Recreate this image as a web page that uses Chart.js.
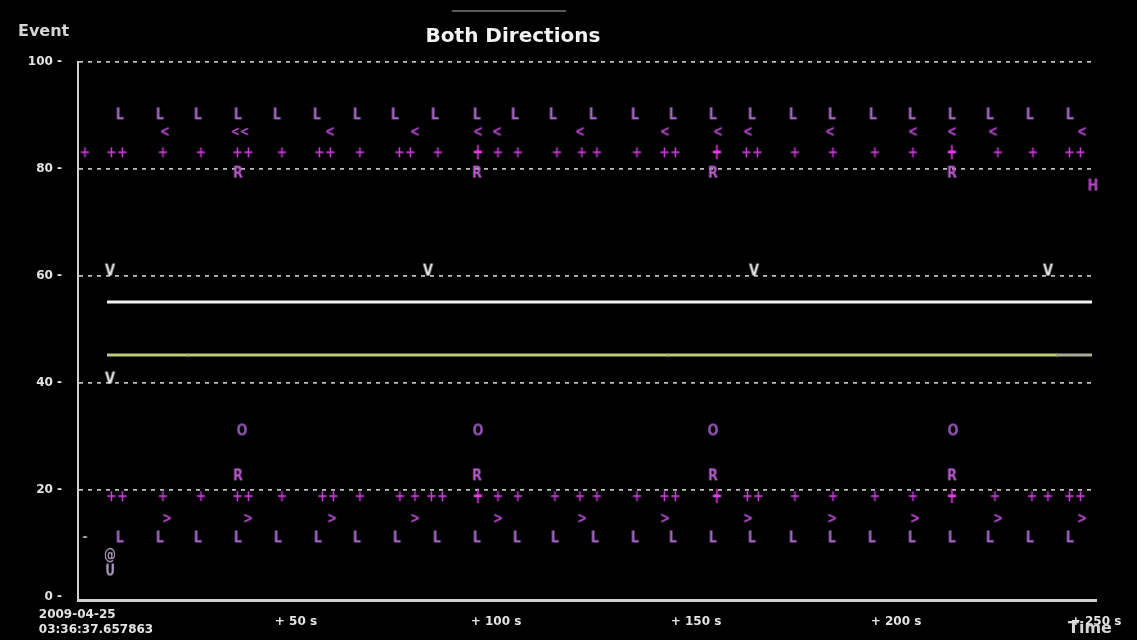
<!DOCTYPE html>
<html>
<head>
<meta charset="utf-8">
<title>Both Directions</title>
<style>
  html, body { margin: 0; padding: 0; background: #000; }
  #wrap { width: 1137px; height: 640px; }
</style>
</head>
<body>
<div id="wrap"><canvas id="chart" width="1137" height="640"></canvas></div>
<script src="https://cdn.jsdelivr.net/npm/chart.js@4/dist/chart.umd.min.js"></script>
<script>
// event rows (value on the Event axis)
var rowUpperL = 90.3, rowUpperLess = 87.1, rowUpperPlus = 83.2, rowUpperR = 79.4, rowH = 77;
var rowV60 = 61.1, rowV40 = 40.9, rowWhite = 55.1, rowGreen = 45.2;
var rowO = 31.2, rowLowerR = 22.8, rowLowerPlus = 18.9, rowGreater = 14.8, rowLowerL = 11.2;
var rowAt = 7.9, rowU = 5.0;

// times in seconds after 2009-04-25 03:36:37.657863
var upperL = [6, 16, 25.5, 35.5, 45.25, 55.25, 65.25, 74.75, 84.75, 95.25, 104.75, 114.25, 124.25,
              134.75, 144.25, 154.25, 164, 174.25, 184, 194.25, 204, 214, 223.5, 233.5, 243.5];
var upperLess = [17.25, 58.5, 79.75, 95.5, 100.25, 121, 142.25, 155.5, 163, 183.5, 204.25, 214, 224.25, 246.5];
var upperLessDouble = [36];
var upperPlus = [-2.75, 16.75, 26.25, 46.5, 66, 85.5, 100.5, 105.5, 115.25, 121.5, 125.25, 135.25,
                 174.75, 184.25, 194.75, 204.25, 225.5, 234.25];
var upperPlusDouble = [5.25, 36.75, 57.25, 77.25, 143.5, 164, 244.75];
var upperPlusBright = [95.5, 155.25, 214];
var upperR = [35.5, 95.25, 154.25, 214];
var hEvents = [249.25];
var v60 = [3.5, 83, 164.5, 238];
var v40 = [3.5];
var whiteLine = [2.75, 249];
var greenLine = [2.75, 23, 143, 240.25];
var greenTail = [240.25, 249];
var oEvents = [36.5, 95.5, 154.25, 214.25];
var lowerR = [35.5, 95.25, 154.25, 214];
var lowerPlus = [16.75, 26.25, 46.5, 66, 76, 79.75, 100.5, 105.5, 114.75, 121, 125.25, 135.25,
                 174.75, 184.25, 194.75, 204.25, 224.75, 234, 238];
var lowerPlusDouble = [5.25, 36.75, 58, 85.25, 143.5, 164.25, 244.75];
var lowerPlusBright = [95.5, 155.25, 214];
var greater = [17.75, 38, 59, 79.75, 100.5, 121.5, 142.25, 163, 184, 204.75, 225.5, 246.5];
var lowerL = [6, 16, 25.5, 35.5, 45.5, 55.5, 65.25, 75.25, 85.25, 95.25, 105.25, 114.75, 124.75,
              134.75, 144.25, 154.25, 164, 174.25, 184, 194, 204, 214, 223.5, 233.5, 243.5];
var atEvents = [3.5];
var uEvents = [3.5];
var tickMark = [-2.75];

var yTicks = [0, 20, 40, 60, 80, 100];
var xTicks = [0, 50, 100, 150, 200, 250];
var xOriginLabel = ['2009-04-25         ', '03:36:37.657863'];

// draw a character into a small canvas to use as point style
function glyph(text, color, size, stretch) {
  var c = document.createElement('canvas');
  var g = c.getContext('2d');
  var font = 'bold ' + size + 'px "DejaVu Sans"';
  g.font = font;
  var w = Math.ceil(g.measureText(text).width) + 4;
  var h = Math.ceil(size * stretch) + 4;
  c.width = w; c.height = h;
  g.font = font;
  g.fillStyle = color;
  g.textAlign = 'center';
  g.textBaseline = 'alphabetic';
  g.translate(w / 2, h / 2);
  g.scale(1, stretch);
  g.fillText(text, 0, size * 0.36);
  return c;
}

function pts(times, row) {
  return times.map(function (t) { return { x: t, y: row }; });
}

function marks(times, row, text, color, size, stretch) {
  return {
    data: pts(times, row),
    showLine: false,
    pointStyle: glyph(text, color, size || 13, stretch || 1.25),
    pointRadius: 6,
    clip: false
  };
}

var LCOL = '#a868c8', PCOL = '#c63ad6', ACOL = '#b84cd0', RCOL = '#b85ccc';

var datasets = [
  { data: pts(whiteLine, rowWhite), showLine: true, borderColor: '#f2f2f2', borderWidth: 3, pointRadius: 0 },
  { data: pts(greenLine, rowGreen), showLine: true, borderColor: '#bccb7c', borderWidth: 3,
    pointRadius: [0, 2, 2, 2], pointStyle: 'line', rotation: 90, pointBorderColor: '#8a9060', pointBorderWidth: 1 },
  { data: pts(greenTail, rowGreen), showLine: true, borderColor: '#a9ab98', borderWidth: 3, pointRadius: 0 },
  marks(upperL, rowUpperL, 'L', LCOL),
  marks(upperLess, rowUpperLess, '<', ACOL, 12),
  marks(upperLessDouble, rowUpperLess, '<<', ACOL, 11),
  marks(upperPlus, rowUpperPlus, '+', PCOL),
  marks(upperPlusDouble, rowUpperPlus, '++', PCOL),
  marks(upperPlusBright, rowUpperPlus, '+', '#f03cf0', 13, 1.7),
  marks(upperR, rowUpperR, 'R', RCOL),
  marks(hEvents, rowH, 'H', '#b848c8'),
  marks(v60, rowV60, 'V', '#e6e6e6'),
  marks(v40, rowV40, 'V', '#e6e6e6'),
  marks(oEvents, rowO, 'O', '#9052b0'),
  marks(lowerR, rowLowerR, 'R', RCOL),
  marks(lowerPlus, rowLowerPlus, '+', PCOL),
  marks(lowerPlusDouble, rowLowerPlus, '++', PCOL),
  marks(lowerPlusBright, rowLowerPlus, '+', '#f03cf0', 13, 1.7),
  marks(greater, rowGreater, '>', ACOL, 12),
  marks(lowerL, rowLowerL, 'L', LCOL),
  marks(atEvents, rowAt, '@', '#a898b8', 12),
  marks(uEvents, rowU, 'U', '#a898b8', 12),
  marks(tickMark, rowLowerL, '-', '#c8c8c8', 12, 1)
];

var textPlugin = {
  id: 'texts',
  afterDraw: function (chart) {
    var ctx = chart.ctx;
    ctx.save();
    ctx.fillStyle = '#5a5a5a';
    ctx.fillRect(452, 10, 114, 2);
    ctx.textBaseline = 'middle';
    ctx.fillStyle = '#d6d6d6';
    ctx.font = 'bold 16px "DejaVu Sans"';
    ctx.textAlign = 'left';
    ctx.fillText('Event', 18, 32);
    ctx.fillStyle = '#f2f2f2';
    ctx.font = 'bold 20px "DejaVu Sans"';
    ctx.textAlign = 'center';
    ctx.fillText('Both Directions', 513, 37);
    ctx.fillStyle = '#d6d6d6';
    ctx.font = 'bold 16px "DejaVu Sans"';
    ctx.fillText('Time', 1090, 629);
    ctx.restore();
  }
};

var bgPlugin = {
  id: 'bg',
  beforeDraw: function (chart) {
    var ctx = chart.ctx;
    ctx.save();
    ctx.fillStyle = '#000';
    ctx.fillRect(0, 0, chart.width, chart.height);
    ctx.restore();
  }
};

new Chart(document.getElementById('chart'), {
  type: 'scatter',
  data: { datasets: datasets },
  plugins: [bgPlugin, textPlugin],
  options: {
    responsive: false,
    animation: false,
    layout: { padding: { top: 62, right: 41, bottom: 0, left: 0 } },
    plugins: { legend: { display: false }, tooltip: { enabled: false }, title: { display: false } },
    scales: {
      x: {
        type: 'linear',
        min: -4.5,
        max: 250,
        afterBuildTicks: function (scale) { scale.ticks = xTicks.map(function (v) { return { value: v }; }); },
        afterFit: function (scale) { scale.height = 40; },
        grid: { display: true, color: 'rgba(0,0,0,0)', drawTicks: false },
        border: { display: true, color: '#cfcfcf', width: 3 },
        ticks: {
          color: '#e4e4e4',
          font: { family: '"DejaVu Sans"', size: 12, weight: 'bold' },
          padding: 15,
          crossAlign: 'center',
          maxRotation: 0,
          autoSkip: false,
          callback: function (v) { return v === 0 ? xOriginLabel : '+ ' + v + ' s'; }
        }
      },
      y: {
        min: -0.6,
        max: 100,
        afterBuildTicks: function (scale) { scale.ticks = yTicks.map(function (v) { return { value: v }; }); },
        afterFit: function (scale) { scale.width = 78; },
        grid: {
          color: function (c) { return c.tick && c.tick.value === 0 ? 'rgba(0,0,0,0)' : '#bdbdbd'; },
          lineWidth: 1.8,
          drawTicks: false
        },
        border: { display: true, color: '#cfcfcf', width: 2, dash: [4, 5] },
        ticks: {
          color: '#e4e4e4',
          font: { family: '"DejaVu Sans"', size: 12, weight: 'bold' },
          padding: 16,
          callback: function (v) { return v + ' -'; }
        }
      }
    }
  }
});
</script>
</body>
</html>
